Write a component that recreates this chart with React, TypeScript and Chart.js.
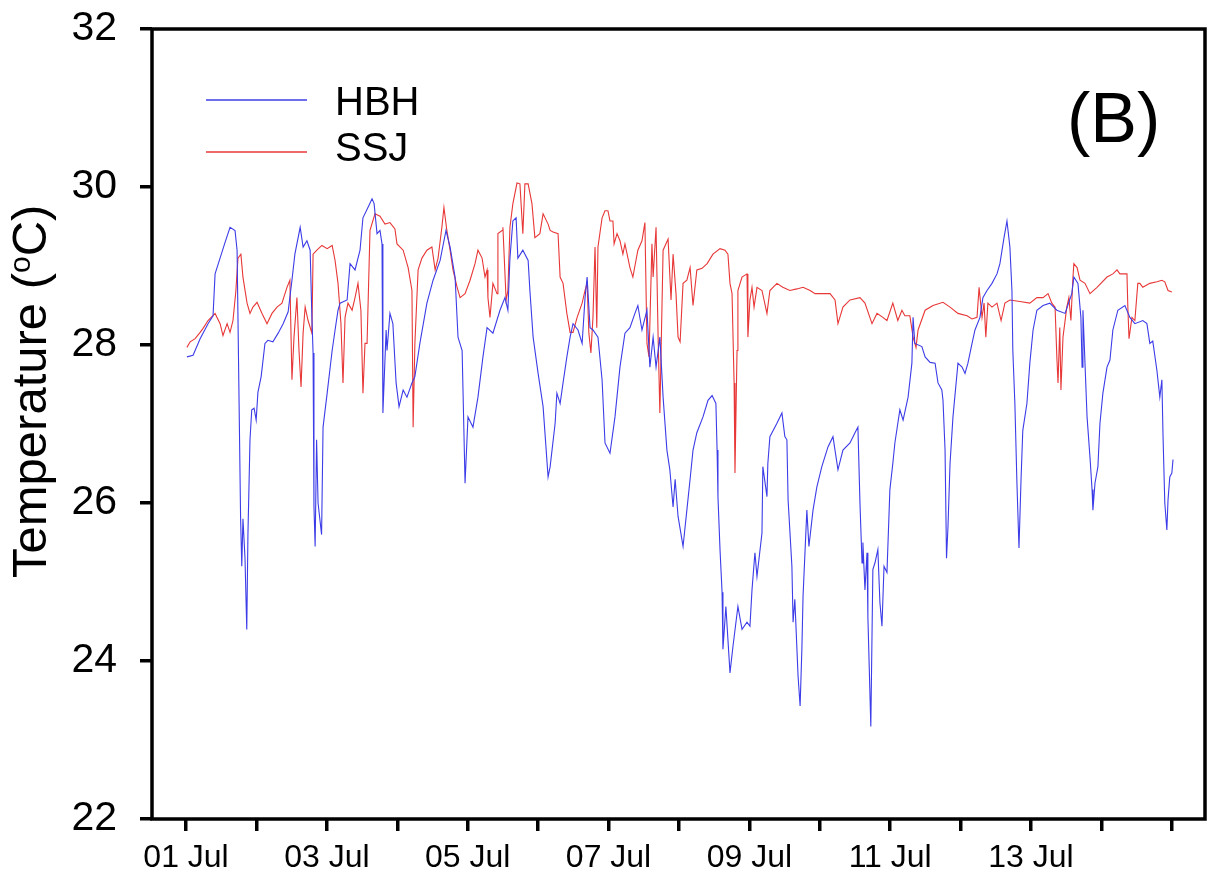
import React, { useEffect, useRef } from 'react';
import { Chart, registerables } from 'chart.js';

Chart.register(...registerables);

const FONT = "'Liberation Sans', Arial, Helvetica, sans-serif";

const seriesNames = ['HBH', 'SSJ'];
const seriesColors = ['rgb(60,60,232)', 'rgb(232,55,55)'];

// hours since 01 Jul 00:00
const hbhHours = [0.3,2.4,4.8,7.5,9.2,9.9,11.6,13.3,15.0,16.7,17.4,18.6,19.0,19.4,20.1,20.7,21.1,21.8,22.4,23.2,23.9,24.5,25.6,26.9,27.9,29.6,31.4,33.1,34.8,36.1,37.1,38.9,39.9,41.2,42.3,42.9,43.3,43.6,44.0,44.5,45.0,46.2,46.7,48.1,49.8,50.8,51.8,52.5,54.9,55.9,57.6,59.3,60.3,62.0,63.4,64.1,65.1,66.1,66.8,67.1,68.2,68.5,69.5,70.5,71.6,72.6,74.0,75.3,77.0,78.0,79.7,82.1,84.2,86.6,88.6,90.0,91.7,92.7,94.1,95.1,96.1,97.8,99.5,101.2,102.6,104.6,107.0,108.7,109.7,110.4,111.4,112.5,113.1,114.8,116.6,117.2,118.3,120.0,121.7,123.4,124.1,125.8,126.4,127.5,128.5,129.8,130.9,131.9,133.6,135.0,136.0,136.7,137.7,138.7,140.4,141.8,142.8,144.5,146.2,147.9,149.6,151.3,153.0,154.0,155.4,157.1,158.1,159.2,160.2,161.5,162.6,163.9,164.9,166.0,166.7,167.7,169.4,170.7,171.8,172.8,174.1,176.2,177.9,179.3,180.6,181.0,181.3,182.0,182.7,183.0,184.0,185.4,186.4,188.1,189.5,191.2,192.2,192.9,193.9,194.6,196.3,196.6,198.0,198.3,199.0,201.4,203.1,204.1,204.8,205.2,206.5,206.9,207.5,208.6,209.3,209.9,210.3,211.0,211.6,212.3,213.7,215.0,216.7,218.8,220.5,222.2,223.9,226.3,228.0,229.0,229.7,230.4,230.7,231.4,232.1,232.4,233.4,234.1,234.8,235.8,236.5,237.2,237.9,238.9,239.9,240.9,241.6,243.3,244.4,246.1,247.4,247.8,248.4,250.8,251.9,253.6,255.3,256.3,257.6,258.0,258.7,259.2,259.7,260.4,261.4,263.1,264.5,265.5,266.5,267.9,268.9,270.6,271.6,273.0,274.7,276.4,277.4,278.8,279.8,280.8,281.5,281.8,282.5,283.2,283.9,284.6,285.2,286.6,287.6,288.7,290.0,292.1,294.4,296.8,299.6,301.9,302.6,304.0,305.0,305.4,305.7,307.1,308.1,308.8,309.1,309.8,310.8,311.5,312.5,313.9,314.9,315.9,317.6,320.0,321.7,323.4,326.1,327.5,328.5,329.5,330.9,331.9,332.6,333.0,333.6,334.3,334.7,335.3,336.0,336.4];
const hbhTemp = [27.85,27.87,28.08,28.27,28.37,28.9,29.1,29.3,29.49,29.45,29.2,25.8,25.2,25.8,25.3,24.4,25.6,26.8,27.18,27.2,27.05,27.4,27.6,28.02,28.06,28.04,28.15,28.27,28.42,28.82,29.15,29.49,29.24,29.32,29.2,28.35,27.9,25.96,25.45,26.8,26.0,25.6,26.96,27.39,27.93,28.19,28.44,28.53,28.57,29.03,28.95,29.2,29.61,29.74,29.85,29.79,29.41,29.45,29.28,27.14,28.19,27.93,28.4,28.27,27.52,27.22,27.43,27.34,27.52,27.6,28.02,28.53,28.82,29.07,29.45,29.24,28.86,28.1,27.93,26.25,27.09,26.96,27.34,27.85,28.22,28.15,28.44,28.6,28.44,29.1,29.57,29.61,29.1,29.2,29.07,28.69,28.1,27.64,27.22,26.33,26.46,27.01,27.39,27.26,27.52,27.85,28.1,28.27,28.19,28.02,28.6,28.86,28.22,28.19,28.1,27.56,26.76,26.63,27.09,27.72,28.15,28.22,28.4,28.5,28.19,28.44,27.72,28.1,27.72,28.1,27.34,26.67,26.42,25.95,26.3,25.83,25.45,25.91,26.3,26.67,26.89,27.09,27.3,27.36,27.26,26.67,26.08,25.41,24.87,24.15,24.69,23.85,24.18,24.69,24.4,24.49,24.44,24.9,25.37,25.07,25.62,26.46,26.08,26.5,26.84,27.01,27.14,26.84,26.8,26.04,25.2,24.49,24.78,23.81,23.43,24.15,24.82,25.41,25.91,25.45,25.91,26.2,26.46,26.71,26.84,26.42,26.67,26.76,26.89,26.96,26.0,25.24,25.5,24.9,25.37,24.56,23.17,25.16,25.24,25.41,24.74,24.44,25.2,25.12,26.17,26.5,26.76,27.18,27.05,27.34,27.77,28.35,28.02,27.98,27.85,27.78,27.77,27.52,27.43,27.3,26.67,25.3,25.7,26.5,27.09,27.77,27.72,27.64,27.77,28.02,28.19,28.35,28.6,28.69,28.78,28.9,29.03,29.36,29.57,29.24,28.69,27.93,27.26,26.25,25.43,26.3,26.92,27.26,27.77,28.19,28.44,28.5,28.53,28.44,28.4,28.65,28.86,28.78,28.35,27.72,28.44,27.09,26.58,26.17,25.91,26.25,26.46,27.01,27.39,27.72,27.81,28.19,28.44,28.5,28.35,28.27,28.31,28.27,28.02,28.05,27.68,27.34,27.56,26.84,26.0,25.66,26.04,26.33,26.38,26.55];

const ssjHours = [0.3,1.4,3.1,4.8,5.8,7.5,9.9,11.6,12.6,14.0,15.0,16.0,17.0,17.7,18.7,19.4,20.8,21.8,22.8,24.2,25.9,27.6,29.3,31.0,32.7,34.4,35.4,36.1,36.8,37.8,38.5,39.2,39.9,40.6,41.6,42.9,43.3,44.6,46.3,48.1,49.8,50.8,51.8,52.8,53.5,54.2,55.2,56.6,57.6,58.6,59.6,60.3,61.0,61.7,62.7,64.4,66.1,67.8,69.5,71.2,71.9,74.0,75.7,77.0,77.4,78.0,79.1,80.4,82.1,83.8,84.9,85.9,87.2,87.9,88.9,90.0,91.0,92.4,93.4,95.1,96.8,98.5,99.5,100.9,101.9,102.6,102.9,103.6,104.6,106.0,106.3,107.7,108.0,109.1,109.7,110.4,111.4,112.8,113.8,114.8,115.5,116.6,117.9,118.9,120.6,121.7,123.4,124.1,125.1,126.8,127.5,128.5,129.8,130.9,131.9,133.3,135.0,136.0,136.7,137.3,138.0,138.7,139.4,140.0,140.4,141.8,142.8,143.8,144.5,145.5,145.9,146.9,147.9,148.9,149.6,151.3,152.3,154.0,155.4,156.4,157.1,157.8,158.8,159.2,160.2,160.9,161.5,162.6,164.3,165.3,166.0,167.0,167.7,168.4,169.4,170.7,171.8,172.8,174.1,175.9,177.6,179.6,182.0,183.7,184.7,185.4,186.1,186.8,187.1,187.8,188.1,189.5,191.2,191.5,192.2,192.9,193.6,194.6,196.3,198.0,199.0,201.4,203.4,205.8,208.2,210.3,212.7,214.4,217.1,219.5,221.2,222.2,223.9,226.3,229.7,231.4,233.8,235.5,237.5,238.9,240.9,242.6,244.0,245.0,246.7,247.8,248.8,249.5,251.9,254.6,258.0,260.4,263.1,266.2,267.9,269.6,270.3,271.3,272.0,272.6,273.3,274.7,276.4,277.8,279.1,280.8,284.2,287.6,290.0,292.1,293.8,295.1,296.2,296.8,297.2,297.8,298.2,298.9,300.2,300.9,301.6,302.3,302.6,303.7,304.7,306.4,308.1,310.5,313.9,315.9,317.3,318.3,320.7,321.0,321.4,322.4,323.4,324.4,325.1,326.1,328.5,330.9,332.6,333.6,334.7,336.0];
const ssjTemp = [27.97,28.04,28.08,28.16,28.21,28.31,28.4,28.27,28.12,28.27,28.16,28.31,28.69,29.1,29.15,28.86,28.53,28.4,28.48,28.54,28.4,28.27,28.4,28.48,28.53,28.73,28.82,27.56,28.1,28.6,27.93,27.47,28.15,28.48,28.31,28.15,29.15,29.2,29.26,29.22,29.26,29.07,28.78,28.27,27.52,28.35,28.53,28.44,28.6,28.78,28.44,27.39,28.02,28.02,29.45,29.66,29.63,29.53,29.55,29.47,29.28,29.2,28.98,28.69,26.96,28.02,28.95,29.1,29.2,29.24,28.95,29.1,29.49,29.74,29.45,29.2,28.95,28.73,28.6,28.65,28.82,29.03,29.2,29.1,28.86,28.95,28.6,28.35,28.78,28.65,29.41,29.45,29.49,28.57,28.69,29.49,29.79,30.05,30.04,29.41,30.04,30.04,29.79,29.36,29.41,29.66,29.53,29.45,29.43,29.41,28.86,28.78,28.4,28.16,28.16,28.35,28.53,28.69,28.78,28.15,27.9,28.35,29.24,28.22,29.24,29.61,29.7,29.7,29.57,29.57,29.28,29.41,29.32,29.15,29.28,28.98,28.86,29.2,29.32,29.55,28.02,27.85,29.28,28.86,29.49,28.1,27.14,29.2,29.34,28.57,29.15,28.65,28.1,28.04,28.78,28.82,28.98,28.5,28.95,28.97,29.03,29.15,29.22,29.2,29.15,28.78,28.65,27.52,26.38,27.93,28.69,28.86,28.9,28.1,28.57,28.73,28.48,28.73,28.69,28.4,28.69,28.78,28.73,28.69,28.71,28.73,28.69,28.65,28.65,28.65,28.57,28.27,28.48,28.57,28.6,28.53,28.27,28.4,28.35,28.31,28.53,28.31,28.44,28.37,28.37,28.1,27.97,28.19,28.44,28.5,28.54,28.48,28.4,28.37,28.33,28.35,28.73,28.35,28.53,28.1,28.53,28.48,28.53,28.31,28.53,28.57,28.55,28.53,28.6,28.6,28.65,28.53,28.48,27.85,27.52,28.22,27.43,28.1,28.48,28.6,28.31,28.86,29.03,28.98,28.82,28.78,28.65,28.73,28.86,28.9,28.95,28.9,28.9,28.48,28.08,28.35,28.31,28.78,28.78,28.73,28.78,28.8,28.82,28.8,28.69,28.67];

const yTicks = [22, 24, 26, 28, 30, 32];
const dayTickHours = [0, 24, 48, 72, 96, 120, 144, 168, 192, 216, 240, 264, 288, 312, 336];
const dayTickLabels = ['01 Jul', '', '03 Jul', '', '05 Jul', '', '07 Jul', '', '09 Jul', '', '11 Jul', '', '13 Jul', '', ''];
const xRange = [-11.6, 347.3];
const yRange = [22, 32];
const panelLabel = '(B)';
const yTitleParts = ['Temperature (', 'o', 'C)'];

export default function App() {
  const ref = useRef<HTMLCanvasElement>(null);

  useEffect(() => {
    document.body.style.margin = '0';
    const canvas = ref.current;
    if (!canvas) return;

    const framePlugin = {
      id: 'frame',
      afterDatasetsDraw(chart: any) {
        const { ctx, chartArea: a } = chart;
        ctx.save();
        ctx.strokeStyle = '#000';
        ctx.lineWidth = 3.5;
        ctx.strokeRect(a.left, a.top, a.right - a.left, a.bottom - a.top);
        ctx.restore();
      },
    };

    const decorPlugin = {
      id: 'decor',
      afterDraw(chart: any) {
        const ctx = chart.ctx as CanvasRenderingContext2D;
        ctx.save();
        // legend
        const lineYs = [100, 152];
        const textYs = [115, 161];
        chart.data.datasets.forEach((ds: any, i: number) => {
          ctx.strokeStyle = ds.borderColor;
          ctx.lineWidth = 1.3;
          ctx.beginPath();
          ctx.moveTo(206, lineYs[i]);
          ctx.lineTo(307, lineYs[i]);
          ctx.stroke();
          ctx.fillStyle = '#000';
          ctx.font = `40px ${FONT}`;
          ctx.textAlign = 'left';
          ctx.textBaseline = 'alphabetic';
          ctx.fillText(ds.label, 335, textYs[i]);
        });
        // panel label
        ctx.font = `70px ${FONT}`;
        ctx.fillStyle = '#000';
        ctx.textAlign = 'left';
        ctx.textBaseline = 'alphabetic';
        ctx.fillText(panelLabel, 1067, 142);
        // y title with superscript
        ctx.translate(46, 578);
        ctx.rotate(-Math.PI / 2);
        ctx.font = `49px ${FONT}`;
        ctx.fillText(yTitleParts[0], 0, 0);
        let w = ctx.measureText(yTitleParts[0]).width;
        ctx.font = `30px ${FONT}`;
        ctx.fillText(yTitleParts[1], w, -16);
        w += ctx.measureText(yTitleParts[1]).width;
        ctx.font = `49px ${FONT}`;
        ctx.fillText(yTitleParts[2], w, 0);
        ctx.restore();
      },
    };

    const chart = new Chart(canvas, {
      type: 'line',
      data: {
        datasets: [
          {
            label: seriesNames[0],
            data: hbhHours.map((h, i) => ({ x: h, y: hbhTemp[i] })),
            borderColor: seriesColors[0],
            borderWidth: 1.1,
            pointRadius: 0,
            fill: false,
            tension: 0,
          },
          {
            label: seriesNames[1],
            data: ssjHours.map((h, i) => ({ x: h, y: ssjTemp[i] })),
            borderColor: seriesColors[1],
            borderWidth: 1.1,
            pointRadius: 0,
            fill: false,
            tension: 0,
          },
        ],
      },
      options: {
        responsive: false,
        animation: false,
        devicePixelRatio: 1,
        layout: { padding: { top: 29, right: 7, left: 0, bottom: 0 } },
        plugins: {
          legend: { display: false },
          tooltip: { enabled: false },
        },
        scales: {
          x: {
            type: 'linear',
            min: xRange[0],
            max: xRange[1],
            afterBuildTicks: (s: any) => {
              s.ticks = dayTickHours.map((v) => ({ value: v }));
            },
            afterFit: (s: any) => {
              s.height = 58;
              s.paddingLeft = 0;
              s.paddingRight = 0;
            },
            grid: {
              drawOnChartArea: false,
              drawTicks: true,
              tickLength: 12,
              tickWidth: 3.5,
              tickColor: '#000',
              lineWidth: 3.5,
              color: '#000',
            },
            border: { display: false },
            ticks: {
              autoSkip: false,
              maxRotation: 0,
              minRotation: 0,
              padding: 8,
              color: '#000',
              font: { family: FONT, size: 32 },
              callback: (_v: any, i: number) => dayTickLabels[i] ?? '',
            },
          },
          y: {
            type: 'linear',
            min: yRange[0],
            max: yRange[1],
            afterBuildTicks: (s: any) => {
              s.ticks = yTicks.map((v) => ({ value: v }));
            },
            afterFit: (s: any) => {
              s.width = 152;
              s.paddingTop = 0;
              s.paddingBottom = 0;
            },
            grid: {
              drawOnChartArea: false,
              drawTicks: true,
              tickLength: 12,
              tickWidth: 3.5,
              tickColor: '#000',
              lineWidth: 3.5,
              color: '#000',
            },
            border: { display: false },
            ticks: {
              padding: 23,
              color: '#000',
              font: { family: FONT, size: 41 },
              callback: (v: any) => String(v),
            },
          },
        },
      },
      plugins: [framePlugin, decorPlugin],
    } as any);

    return () => chart.destroy();
  }, []);

  return (
    <div style={{ width: 1212, height: 877, overflow: 'hidden', background: '#fff' }}>
      <canvas ref={ref} width={1212} height={877} style={{ display: 'block', width: 1212, height: 877 }} />
    </div>
  );
}
